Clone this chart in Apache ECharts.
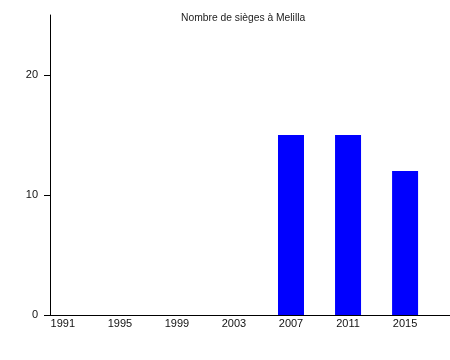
<!DOCTYPE html>
<html>
<head>
<meta charset="utf-8">
<script src="https://cdn.jsdelivr.net/npm/echarts@6/dist/echarts.min.js"></script>
<style>html,body{margin:0;padding:0;background:#fff}#c{width:450px;height:360px}</style>
</head>
<body>
<div id="c"></div>
<script>
const title = "Nombre de sièges à Melilla";
const years = [1991, 1995, 1999, 2003, 2007, 2011, 2015];
const seats = [0, 0, 0, 0, 15, 15, 12];
const yTicks = [0, 10, 20];

const chart = echarts.init(document.getElementById('c'), null, {renderer: 'canvas'});
const font = '"Liberation Sans", Arial, sans-serif';
chart.setOption({
  animation: false,
  title: {
    text: title, left: 176, top: 8,
    textStyle: {fontSize: 10.3, fontWeight: 'normal', color: '#222', fontFamily: font}
  },
  grid: {left: 50, right: 0, top: 15, bottom: 45},
  xAxis: {
    type: 'value', min: 1990.1, max: 2018.15,
    splitLine: {show: false},
    axisLine: {show: true, lineStyle: {color: '#000', width: 1}},
    axisTick: {show: false},
    axisLabel: {customValues: years, margin: 3, color: '#111', fontSize: 11, fontFamily: font,
      formatter: v => String(Math.round(v))}
  },
  yAxis: {
    type: 'value', min: 0, max: 25, interval: 5,
    splitLine: {show: false},
    axisLine: {show: true, lineStyle: {color: '#000', width: 1}},
    axisTick: {show: true, customValues: yTicks, length: 6, lineStyle: {color: '#000'}},
    axisLabel: {customValues: yTicks, margin: 12, color: '#111', fontSize: 11, fontFamily: font}
  },
  series: [{
    type: 'bar',
    data: years.map((y, i) => [y, seats[i]]),
    barWidth: 26,
    itemStyle: {color: '#0000ff'}
  }]
});
</script>
</body>
</html>
